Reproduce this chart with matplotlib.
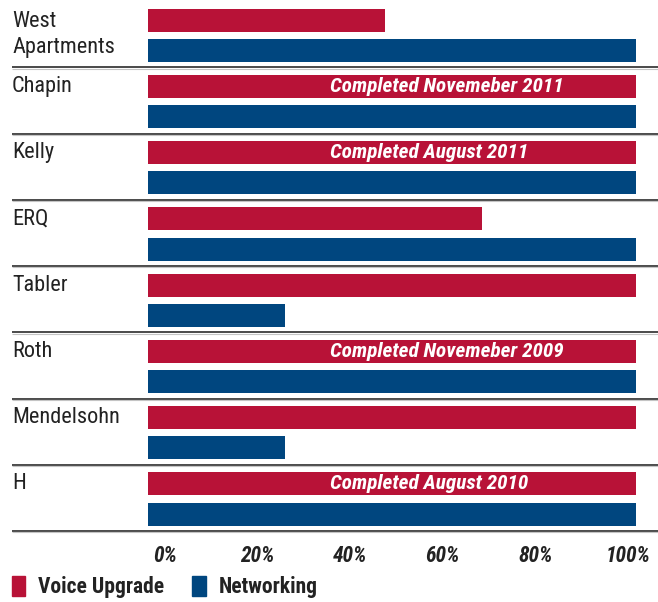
import matplotlib
matplotlib.use("Agg")
import matplotlib.pyplot as plt
from matplotlib.patches import Patch
from matplotlib import font_manager
from matplotlib.transforms import ScaledTranslation

# Data
buildings = ["West\nApartments", "Chapin", "Kelly", "ERQ", "Tabler", "Roth", "Mendelsohn", "H"]
voice_upgrade = [48.5, 100, 100, 68.5, 100, 100, 100, 100]
networking = [100, 100, 100, 100, 28, 100, 28, 100]
notes = ["", "Completed Novemeber 2011", "Completed August 2011", "", "",
         "Completed Novemeber 2009", "", "Completed August 2010"]
tick_values = [0, 20, 40, 60, 80, 100]
tick_labels = ["0%", "20%", "40%", "60%", "80%", "100%"]
series_names = ["Voice Upgrade", "Networking"]

RED = "#B81237"
BLUE = "#00467F"
LINE = "#4a4a4a"
TEXT = "#222222"

# pick a narrow sans face if one is present
fonts = font_manager.fontManager.ttflist
names = {f.name for f in fonts}
stretch = "normal"
family = "DejaVu Sans"
for cand in ["Liberation Sans Narrow", "Roboto Condensed", "Open Sans Condensed",
             "Noto Sans Condensed", "Arial Narrow"]:
    if cand in names:
        family = cand
        break
else:
    if any(f.name == "DejaVu Sans" and f.stretch == "condensed" for f in fonts):
        stretch = "condensed"
plt.rcParams["font.family"] = [family, "DejaVu Sans"]
plt.rcParams["font.stretch"] = stretch

W, H = 658, 602
fig = plt.figure(figsize=(W / 100, H / 100), dpi=100)

# axes placed so 0% sits at x=148px and 100% at x=636px
x0_px, x100_px = 148, 636
px_per_unit = (x100_px - x0_px) / 100
xmax = (W - x0_px) / px_per_unit
top_px, bottom_px = 1, 531
ax = fig.add_axes([x0_px / W, 1 - bottom_px / H, (W - x0_px) / W, (bottom_px - top_px) / H])
n = len(buildings)
ax.set_xlim(0, xmax)
ax.set_ylim(n, 0)

bar_h = 0.347
red_off, blue_off = 0.29, 0.745
note_x = (330 - x0_px) / px_per_unit
for g in range(n):
    ax.barh(g + red_off, voice_upgrade[g], height=bar_h, color=RED)
    ax.barh(g + blue_off, networking[g], height=bar_h, color=BLUE)
    if notes[g]:
        ax.text(note_x, g + red_off, notes[g], color="white", fontsize=15.2,
                fontweight="bold", fontstyle="italic", fontstretch=stretch,
                ha="left", va="center")

# separators between buildings, running out to the label column
yax = ax.get_yaxis_transform()
sep_x0 = (12 - x0_px) / (W - x0_px)
for g in range(1, n + 1):
    ax.plot([sep_x0, 1], [g, g], transform=yax, color=LINE, lw=1.4,
            clip_on=False, solid_capstyle="butt")
    ax.plot([sep_x0, 1], [g + 0.02, g + 0.02], transform=yax, color="#c4c4c4",
            lw=0.8, clip_on=False, solid_capstyle="butt")

# building names
for g, name in enumerate(buildings):
    if "\n" in name:
        ax.text(sep_x0, g + 0.5, name, transform=yax, ha="left", va="center",
                fontsize=16, color=TEXT, linespacing=1.32, fontstretch=stretch)
    else:
        ax.text(sep_x0, g + red_off, name, transform=yax, ha="left", va="center",
                fontsize=16, color=TEXT, fontstretch=stretch)

ax.set_xticks(tick_values)
ax.set_xticklabels(tick_labels, fontsize=15.5, fontweight="bold", fontstyle="italic",
                   color=TEXT, fontstretch=stretch)
ax.tick_params(axis="x", length=0, pad=10)
# tick labels sit on a slightly tighter spacing than the bar scale
for i, lab in enumerate(ax.get_xticklabels()):
    dx_px = 17 - 5 * i
    lab.set_transform(lab.get_transform() + ScaledTranslation(dx_px / 100, 0, fig.dpi_scale_trans))
ax.set_yticks([])
for s in ax.spines.values():
    s.set_visible(False)

handles = [Patch(color=RED, label=series_names[0]), Patch(color=BLUE, label=series_names[1])]
leg = fig.legend(handles=handles, loc="center left", bbox_to_anchor=(12 / W, 1 - 587 / H),
                 ncol=2, frameon=False, borderpad=0, borderaxespad=0,
                 handlelength=0.62, handleheight=1.1,
                 handletextpad=0.6, columnspacing=1.3,
                 prop={"family": [family, "DejaVu Sans"], "weight": "bold",
                       "size": 15.5, "stretch": stretch})
for t in leg.get_texts():
    t.set_color(TEXT)

fig.savefig("out.png", dpi=100)
